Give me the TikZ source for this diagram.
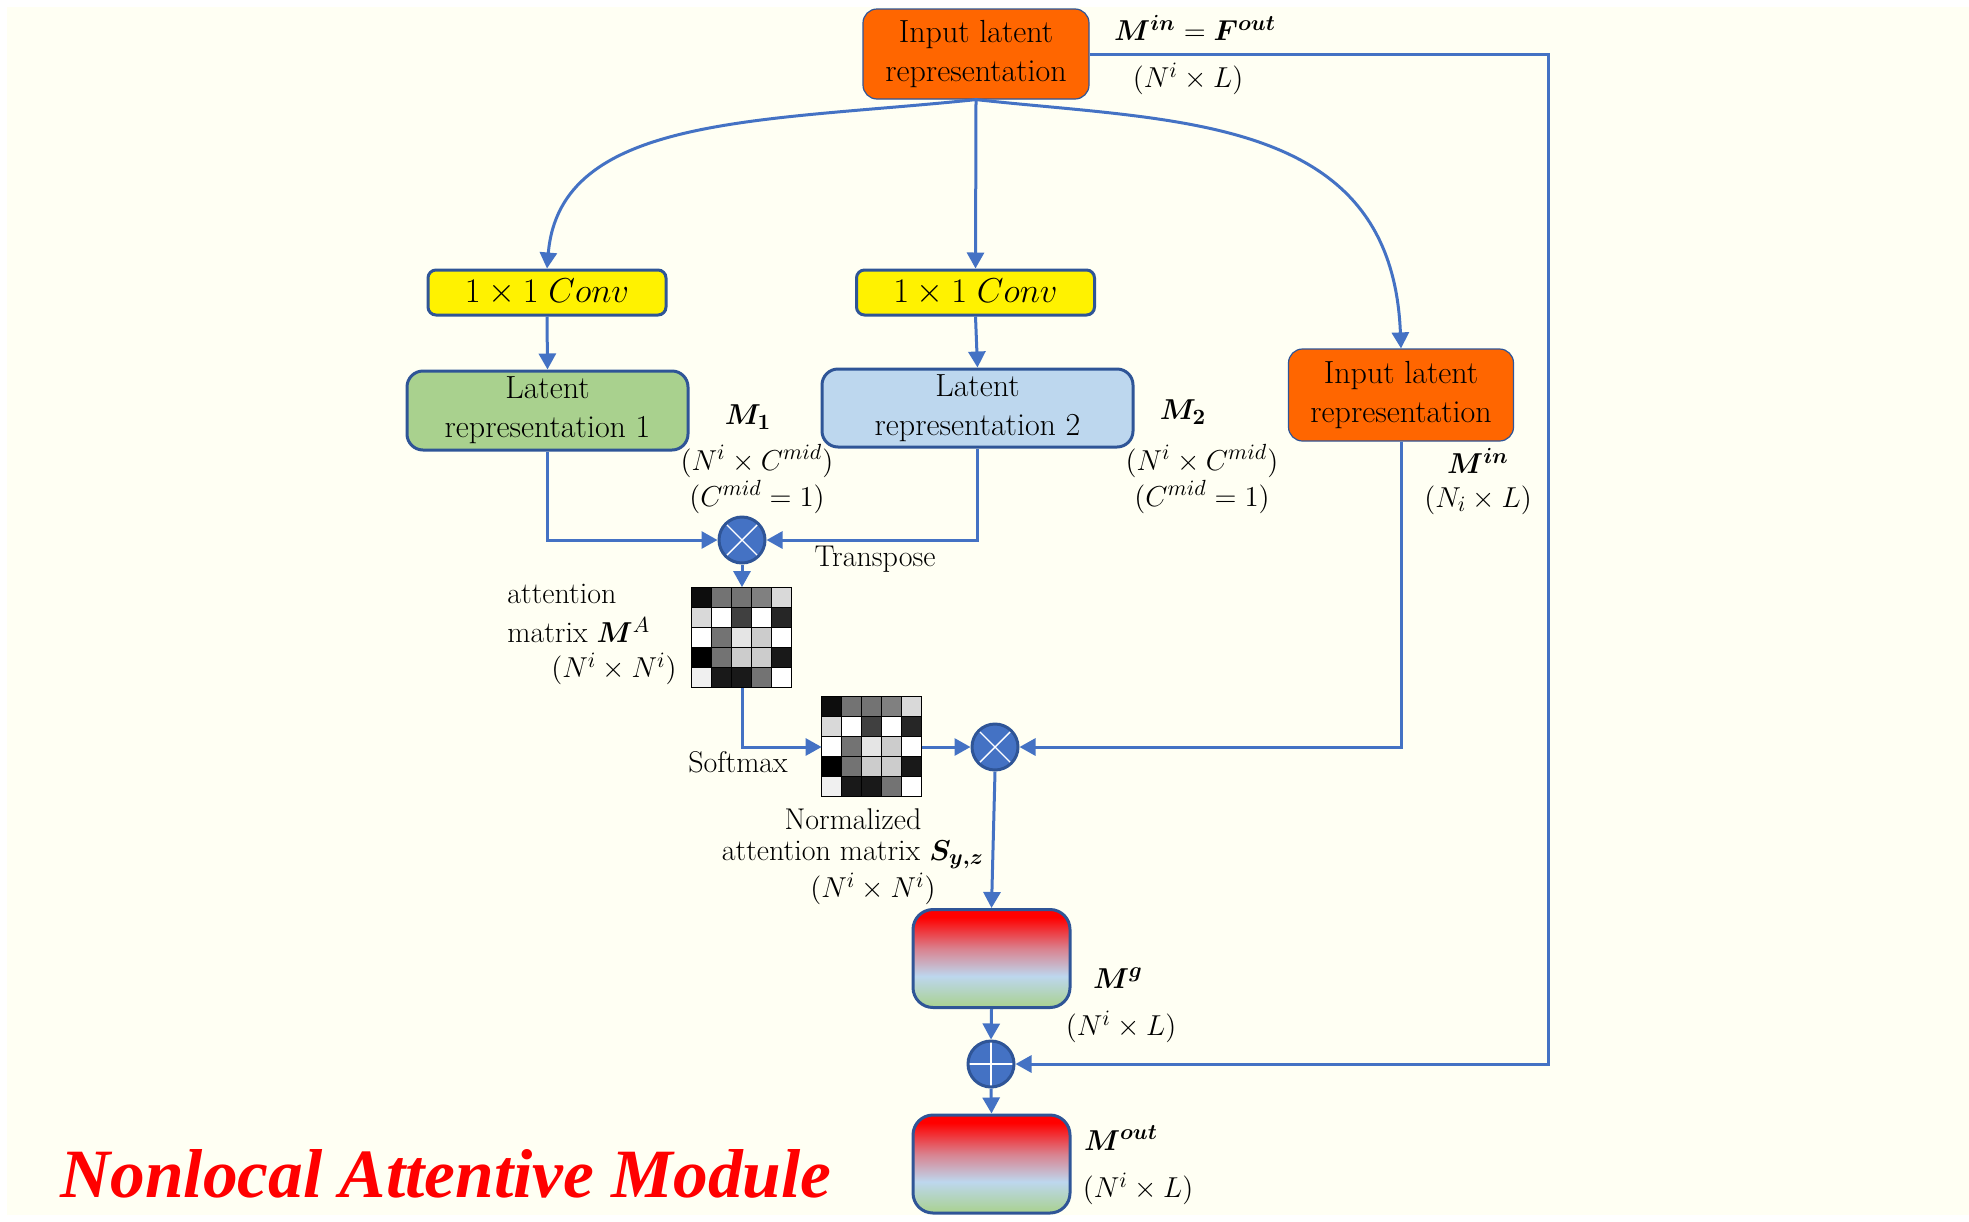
\documentclass[tikz,border=0pt]{standalone}
\usepackage{amsmath,bm}
\usepackage{graphicx}
\usepackage{fontspec}
\usetikzlibrary{arrows.meta,calc}
\newfontfamily\titlefont{Liberation Serif}
\definecolor{ivory}{HTML}{FFFFF3}
\definecolor{lineblue}{HTML}{4472C4}
\definecolor{borderblue}{HTML}{2F5597}
\definecolor{orangefill}{HTML}{FF6600}
\definecolor{greenfill}{HTML}{A9D18E}
\definecolor{bluefill}{HTML}{BDD7EE}
\definecolor{pinkmid}{HTML}{D9828F}
\pgfdeclareverticalshading{mgrad}{100bp}{color(0bp)=(greenfill); color(25bp)=(greenfill); color(41bp)=(bluefill); color(55bp)=(pinkmid); color(71bp)=(red); color(100bp)=(red)}
\begin{document}
\begin{tikzpicture}[x=0.5pt,y=-0.5pt,
  conn/.style={draw=lineblue, line width=1.5pt},
  arr/.style={conn, -{Triangle[length=8pt,width=8.5pt]}},
  boxbase/.style={draw=borderblue, line width=1.5pt, align=center, inner sep=0pt, font=\fontsize{16}{19.5}\selectfont},
  orangebox/.style={boxbase, fill=orangefill, line width=0.6pt, rounded corners=7pt},
  convbox/.style={boxbase, fill=yellow, rounded corners=4pt, minimum width=119pt, minimum height=22.5pt},
  latbox/.style={boxbase, rounded corners=8pt},
  gradbox/.style={draw=borderblue, line width=1.5pt, rounded corners=10pt, shading=mgrad, minimum width=78.5pt, minimum height=49pt, inner sep=0pt},
  opbase/.style={circle, fill=lineblue, draw=borderblue, line width=1.5pt, minimum size=23pt, inner sep=0pt},
  optimes/.style={opbase, path picture={\draw[white, line width=0.7pt] (path picture bounding box.north east) -- (path picture bounding box.south west) (path picture bounding box.north west) -- (path picture bounding box.south east);}},
  opplus/.style={opbase, path picture={\draw[white, line width=0.7pt] (path picture bounding box.north) -- (path picture bounding box.south) (path picture bounding box.west) -- (path picture bounding box.east);}},
  matnode/.style={rectangle, minimum width=50pt, minimum height=50pt, inner sep=0pt},
  lbl/.style={inner sep=0pt, font=\fontsize{15}{18}\selectfont}]

% background
\fill[white] (0,0) rectangle (1969,1221);
\fill[ivory] (7,7) rectangle (1969,1215);
\useasboundingbox (0,0) rectangle (1969,1221);

% nodes
\node[orangebox, minimum width=113pt, minimum height=45pt] (top) at (976,54) {Input latent\\representation};
\node[convbox] (c1) at (547,292.5) {$1\times 1\;Conv$};
\node[convbox] (c2) at (975.5,292.5) {$1\times 1\;Conv$};
\node[latbox, fill=greenfill, minimum width=140.5pt, minimum height=39.5pt] (l1) at (547.5,410.5) {Latent\\representation 1};
\node[latbox, fill=bluefill, minimum width=155.5pt, minimum height=39pt] (l2) at (977.5,408) {Latent\\representation 2};
\node[orangebox, minimum width=112.5pt, minimum height=46pt] (r) at (1401,395) {Input latent\\representation};
\node[optimes] (o1) at (742,540) {};
\node[matnode] (m1) at (742,637.5) {};
\node[matnode] (m2) at (872,747) {};
\node[optimes] (o2) at (995,747) {};
\node[gradbox] (g) at (991.5,958.5) {};
\node[opplus] (p) at (991,1064) {};
\node[gradbox] (out) at (991.5,1164) {};

% matrix cells
\foreach \mm in {m1,m2}{
  \foreach \r/\vals in {0/{95,55,55,50,15},1/{15,0,75,0,85},2/{0,55,10,20,0},3/{100,55,20,20,90},4/{6,90,90,55,0}}{
    \foreach \v [count=\c from 0] in \vals {
      \draw[black, line width=0.5pt, fill=black!\v] ($(\mm.north west)+(\c*20,\r*20)$) rectangle ++(20,20);
    }
  }
}

% coordinates for the outer loop
\coordinate (tr) at (1548,54);
\coordinate (br) at (1548,1064);

% connectors
\draw[arr] (top.south) .. controls (760,122) and (560,115) .. (c1.north);
\draw[arr] (top.south) -- (c2.north);
\draw[arr] (top.south) .. controls (1180,122) and (1392,115) .. (r.north);
\draw[arr] (top.east) -- (tr) -- (br) -- (p.east);
\draw[arr] (c1.south) -- (l1.north);
\draw[arr] (c2.south) -- (l2.north);
\draw[arr] (l1.south) |- (o1.west);
\draw[arr] (l2.south) |- (o1.east);
\draw[arr] (o1.south) -- (m1.north);
\draw[arr] (m1.south) |- (m2.west);
\draw[arr] (m2.east) -- (o2.west);
\draw[arr] (r.south) |- (o2.east);
\draw[arr] (o2.south) -- (g.north);
\draw[arr] (g.south) -- (p.north);
\draw[arr] (p.south) -- (out.north);

% labels
\node[lbl] (t1) at (1195,28) {$\bm{M}^{\bm{in}}=\bm{F}^{\bm{out}}$};
\node[lbl] (t2) at (1188,79) {$(N^i\times L)$};
\node[lbl] (t3) at (748,417) {$\bm{M}_{\bm{1}}$};
\node[lbl] (t4) at (757,461) {$(N^i\times C^{mid})$};
\node[lbl] (t5) at (757,497) {$(C^{mid}=1)$};
\node[lbl] (t6) at (1183,412) {$\bm{M}_{\bm{2}}$};
\node[lbl] (t7) at (1202,461) {$(N^i\times C^{mid})$};
\node[lbl] (t8) at (1202,497) {$(C^{mid}=1)$};
\node[lbl] (t9) at (1478,461) {$\bm{M}^{\bm{in}}$};
\node[lbl] (t10) at (1478,500) {$(N_i\times L)$};
\node[lbl] (t11) at (875,559) {Transpose};
\node[lbl, anchor=west] (t12) at (507,594) {attention};
\node[lbl, anchor=west] (t13) at (507,630) {matrix $\bm{M}^{A}$};
\node[lbl] (t14) at (614,669) {$(N^i\times N^i)$};
\node[lbl] (t15) at (738,762) {Softmax};
\node[lbl] (t16) at (853,819) {Normalized};
\node[lbl] (t17) at (853,855) {attention matrix $\bm{S}_{\bm{y,z}}$};
\node[lbl] (t18) at (873,889) {$(N^i\times N^i)$};
\node[lbl] (t19) at (1118,978) {$\bm{M}^{\bm{g}}$};
\node[lbl] (t20) at (1121,1027) {$(N^i\times L)$};
\node[lbl] (t21) at (1121,1138) {$\bm{M}^{\bm{out}}$};
\node[lbl] (t22) at (1138,1189) {$(N^i\times L)$};

% title
\node[anchor=base west, inner sep=0pt, text=red] (title) at (60,1197) {\resizebox{385.5pt}{24pt}{\titlefont\bfseries\itshape Nonlocal Attentive Module}};
\end{tikzpicture}
\end{document}
